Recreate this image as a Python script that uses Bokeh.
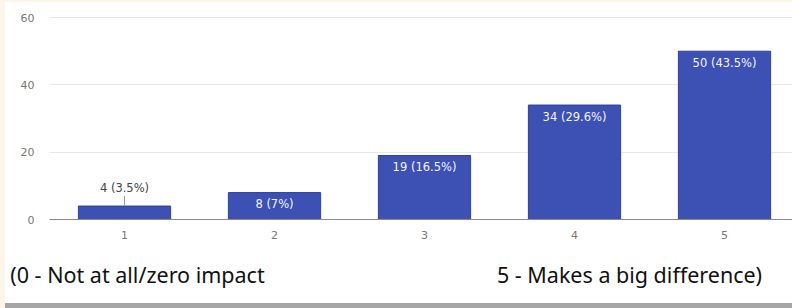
from bokeh.plotting import figure
from bokeh.models import Range1d, FixedTicker, ColumnDataSource, Div
from bokeh.layouts import column, row
from bokeh.embed import file_html
from bokeh.resources import INLINE
from bokeh.core.properties import value

categories = [1, 2, 3, 4, 5]
counts = [4, 8, 19, 34, 50]
bar_labels = ["4 (3.5%)", "8 (7%)", "19 (16.5%)", "34 (29.6%)", "50 (43.5%)"]
y_ticks = [0, 20, 40, 60]
scale_texts = ["(0 - Not at all/zero impact", "5 - Makes a big difference)"]

BAR = "#3d50b4"
CREAM = "#fcf6e8"

p = figure(width=787, height=248, output_backend="svg", toolbar_location=None,
           x_range=Range1d(0.5, 5.4533), y_range=Range1d(0, 61.5),
           min_border_left=44, min_border_right=0, min_border_top=10,
           min_border_bottom=31)
p.outline_line_color = None
p.background_fill_color = "white"
p.border_fill_color = "white"

src = ColumnDataSource(dict(x=categories, top=counts, label=bar_labels))
p.vbar(x="x", top="top", width=0.615, source=src, fill_color=BAR,
       line_color="#2f3f9c", line_width=1)

# labels inside bars (all but the first)
inside = ColumnDataSource(dict(x=categories[1:], y=counts[1:], label=bar_labels[1:]))
p.text(x="x", y="y", text="label", source=inside, text_color="#f4f5ff",
       text_font=value("DejaVu Sans"), text_font_size="11.5px", text_align="center",
       text_baseline="top", y_offset=4.5)

# label above the short first bar with a leader line
first_top = [c + 3 for c in counts[:1]]
outside = ColumnDataSource(dict(x=categories[:1], y=counts[:1], y1=first_top,
                                label=bar_labels[:1]))
p.segment(x0="x", y0="y", x1="x", y1="y1", source=outside, line_color="#9a9a9a",
          line_width=1)
p.text(x="x", y="y", text="label", source=outside, text_color="#444444",
       text_font=value("DejaVu Sans"), text_font_size="11.5px", text_align="center",
       text_baseline="bottom", y_offset=-11)

p.xaxis.ticker = FixedTicker(ticks=categories)
p.yaxis.ticker = FixedTicker(ticks=y_ticks)
p.xgrid.grid_line_color = None
p.ygrid.grid_line_color = "#e8e8e8"
p.ygrid.grid_line_width = 1
p.xaxis.axis_line_color = "#8a8a8a"
p.yaxis.axis_line_color = None
for ax in (p.xaxis, p.yaxis):
    ax.major_tick_line_color = None
    ax.minor_tick_line_color = None
    ax.major_tick_out = 0
    ax.major_tick_in = 0
    ax.minor_tick_out = 0
    ax.major_label_text_color = "#777777"
    ax.major_label_text_font = "DejaVu Sans"
    ax.major_label_text_font_size = "11px"
p.xaxis.major_label_standoff = 11
p.yaxis.major_label_standoff = 15

# caption strip: the two scale-end descriptions, written as axis labels
# (x range in page pixels of the shared frame, which spans 49..792)
caption_centers = [137, 629]
cap = figure(width=787, height=53, output_backend="svg", toolbar_location=None,
             x_range=Range1d(49, 792), y_range=Range1d(0, 1),
             x_axis_location="below", y_axis_location=None,
             min_border_left=44, min_border_right=0,
             min_border_top=0, min_border_bottom=48)
cap.grid.visible = False
cap.outline_line_color = None
cap.border_fill_color = "white"
cap.background_fill_color = "white"
cap.xaxis.ticker = FixedTicker(ticks=caption_centers)
cap.xaxis.major_label_overrides = dict(zip(caption_centers, scale_texts))
cap.xaxis.axis_line_color = None
cap.xaxis.major_tick_line_color = None
cap.xaxis.minor_tick_line_color = None
cap.xaxis.major_tick_out = 0
cap.xaxis.major_tick_in = 0
cap.xaxis.major_label_standoff = 4
cap.xaxis.major_label_text_font = "Noto Sans"
cap.xaxis.major_label_text_font_size = "21.5px"
cap.xaxis.major_label_text_color = "#111111"

top_strip = Div(width=787, height=2, margin=0, styles={"background-color": CREAM})
left_strip = Div(width=5, height=308, margin=0, styles={"background-color": CREAM})
bottom = Div(width=787, height=5, margin=0, styles={"background-color": "#a6a6a6"})

layout = row(left_strip, column(top_strip, p, cap, bottom, spacing=0), spacing=0)

open("out.html", "w").write(file_html(layout, INLINE))
